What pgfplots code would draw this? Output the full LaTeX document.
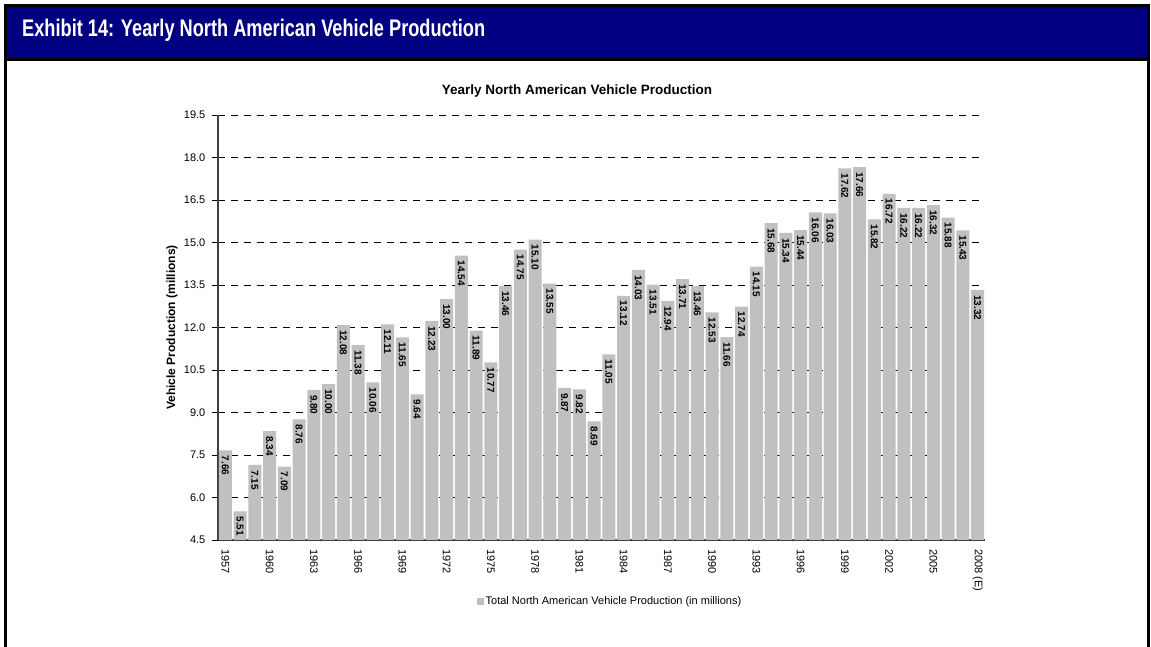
\documentclass[border=0pt]{standalone}
\usepackage{pgfplots}
\pgfplotsset{compat=1.18}
\usepackage{pgfplotstable}
\usepackage{graphicx}
\usepackage{fontspec}
\setmainfont{Liberation Sans}
\definecolor{navyhead}{HTML}{000080}
\definecolor{barg}{HTML}{C0C0C0}
\pgfplotstableread{
x y
0 7.66
1 5.51
2 7.15
3 8.34
4 7.09
5 8.76
6 9.80
7 10.00
8 12.08
9 11.38
10 10.06
11 12.11
12 11.65
13 9.64
14 12.23
15 13.00
16 14.54
17 11.89
18 10.77
19 13.46
20 14.75
21 15.10
22 13.55
23 9.87
24 9.82
25 8.69
26 11.05
27 13.12
28 14.03
29 13.51
30 12.94
31 13.71
32 13.46
33 12.53
34 11.66
35 12.74
36 14.15
37 15.68
38 15.34
39 15.44
40 16.06
41 16.03
42 17.62
43 17.66
44 15.82
45 16.72
46 16.22
47 16.22
48 16.32
49 15.88
50 15.43
51 13.32
}\prodtable
\begin{document}
\begin{tikzpicture}[x=1pt,y=1pt]
\path[use as bounding box] (-218,-107) rectangle (933,540);
% frame and header (px -> x-218, 540-y)
\fill[black] (-214,536) rectangle (932,533);
\fill[navyhead] (-211,533) rectangle (929,482);
\fill[black] (-214,482) rectangle (932,478.5);
\fill[black] (-214,536) rectangle (-211,-107);
\fill[black] (929,536) rectangle (932,-107);
\node[anchor=base west, inner sep=0pt, text=white] at (-196,503)
  {\resizebox{463pt}{\height}{\fontsize{24}{26}\selectfont\bfseries Exhibit 14: Yearly North American Vehicle Production}};
\node[font=\fontsize{13.5}{15}\selectfont\bfseries] at (359,449) {Yearly North American Vehicle Production};
\begin{axis}[
  at={(0,0)}, anchor=south west,
  scale only axis, width=767pt, height=425pt,
  xmin=-0.5, xmax=51.5, ymin=4.5, ymax=19.5,
  ybar, bar width=12.8pt,
  axis x line*=bottom, axis y line*=left,
  axis line style={-, line width=1.1pt, black!75},
  tick align=outside,
  tick style={black, line width=0.8pt},
  ytick={4.5,6,7.5,9,10.5,12,13.5,15,16.5,18,19.5},
  major tick length=6pt,
  /pgf/number format/assume math mode=true,
  yticklabel={\pgfmathprintnumber[fixed,fixed zerofill,precision=1]{\tick}},
  yticklabel style={inner xsep=6.5pt},
  xtick={0,3,...,51},
  xticklabels={1957,1960,1963,1966,1969,1972,1975,1978,1981,1984,1987,1990,1993,1996,1999,2002,2005,2008 (E)},
  xtick style={draw=none},
  extra x ticks={-0.5,0.5,...,51.5},
  extra x tick labels={},
  extra x tick style={major tick length=5pt, tick style={draw=black, line width=0.8pt}, grid=none},
  tick label style={font=\fontsize{11}{13}\selectfont},
  xticklabel style={rotate=-90, anchor=west, inner xsep=3pt},
  ymajorgrids,
  grid style={black, line width=0.8pt, dash pattern=on 7pt off 6pt},
  ylabel={Vehicle Production (millions)},
  ylabel style={font=\fontsize{12}{14}\selectfont\bfseries, at={(axis description cs:-0.06,0.5)}, anchor=center},
  nodes near coords={\pgfmathprintnumber[fixed,fixed zerofill,precision=2,assume math mode=true]{\pgfplotspointmeta}},
  every node near coord/.append style={font=\fontsize{10}{11}\selectfont\bfseries, rotate=-90, anchor=west, inner xsep=5pt, inner ysep=0pt, text=black},
  legend style={draw=none, fill=none, at={(axis description cs:0.511,-0.145)}, anchor=center, font=\fontsize{11}{12}\selectfont},
  legend image code/.code={\fill[barg] (0pt,-3.5pt) rectangle (7pt,3.5pt);},
]
\addplot[fill=barg, draw=none] table[x=x,y=y] {\prodtable};
\addlegendentry{Total North American Vehicle Production (in millions)}
\end{axis}
\end{tikzpicture}
\end{document}
